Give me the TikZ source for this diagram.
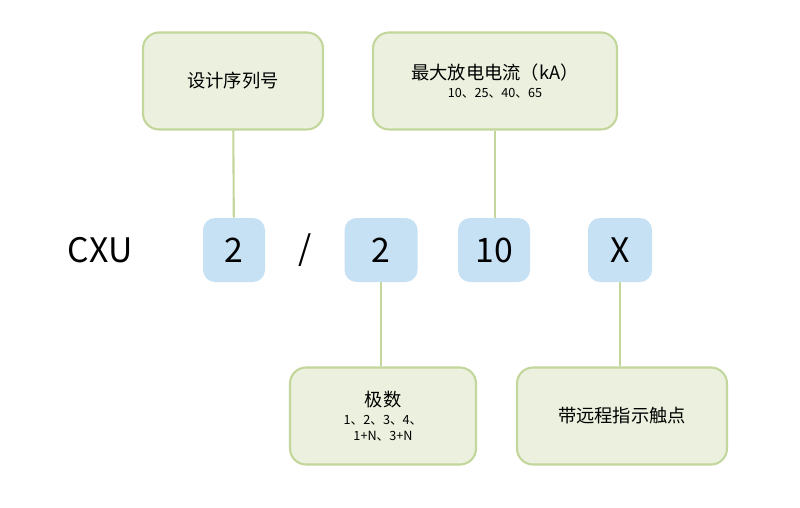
\documentclass[tikz,border=0pt]{standalone}
\usepackage{fontspec}
\setmainfont{Noto Sans CJK SC}
\definecolor{boxgreen}{HTML}{EBF1DE}
\definecolor{linegreen}{HTML}{C3D69B}
\definecolor{boxblue}{HTML}{C6E0F4}
\begin{document}
\begin{tikzpicture}[x=0.025cm,y=-0.025cm]
    \tikzstyle{note}=[draw=linegreen,fill=boxgreen,line width=1.5pt,rounded corners=4mm,align=center,font=\fontsize{13}{15}\selectfont];
    \tikzstyle{code}=[fill=boxblue,rounded corners=3mm,minimum height=64*0.025cm,font=\fontsize{24}{28}\selectfont];
    \tikzstyle{small}=[font=\fontsize{9.5}{12}\selectfont];
    \useasboundingbox (0,0) rectangle (800,507);
    \node at (100, 250) (cxu) [font=\fontsize{24}{28}\selectfont] {CXU};
    \node at (234, 250) (c1) [code,minimum width=62*0.025cm] {2};
    \node at (305, 250) (sl) [font=\fontsize{24}{28}\selectfont] {/};
    \node at (381, 250) (c2) [code,minimum width=73*0.025cm] {2};
    \node at (494, 250) (c3) [code,minimum width=72*0.025cm] {10};
    \node at (620, 250) (c4) [code,minimum width=64*0.025cm] {X};
    \node at (233, 81) (n1) [note,minimum width=180*0.025cm,minimum height=97*0.025cm] {设计序列号};
    \node at (495, 81) (n2) [note,minimum width=244*0.025cm,minimum height=97*0.025cm] {最大放电电流（kA）\\[-2pt]{\small 10、25、40、65}};
    \node at (383, 416) (n3) [note,minimum width=186*0.025cm,minimum height=97*0.025cm] {极数\\[-2pt]{\small 1、2、3、4、}\\[-4pt]{\small 1+N、3+N}};
    \node at (622, 416) (n4) [note,minimum width=210*0.025cm,minimum height=97*0.025cm] {带远程指示触点};

    \draw[linegreen,line width=1.5pt] (n1) -- (c1);
    \draw[linegreen,line width=1.5pt] (n2) -- (c3.north -| n2);
    \draw[linegreen,line width=1.5pt] (c2) -- (n3.north -| c2);
    \draw[linegreen,line width=1.5pt] (c4) -- (n4.north -| c4);
\end{tikzpicture}
\end{document}
